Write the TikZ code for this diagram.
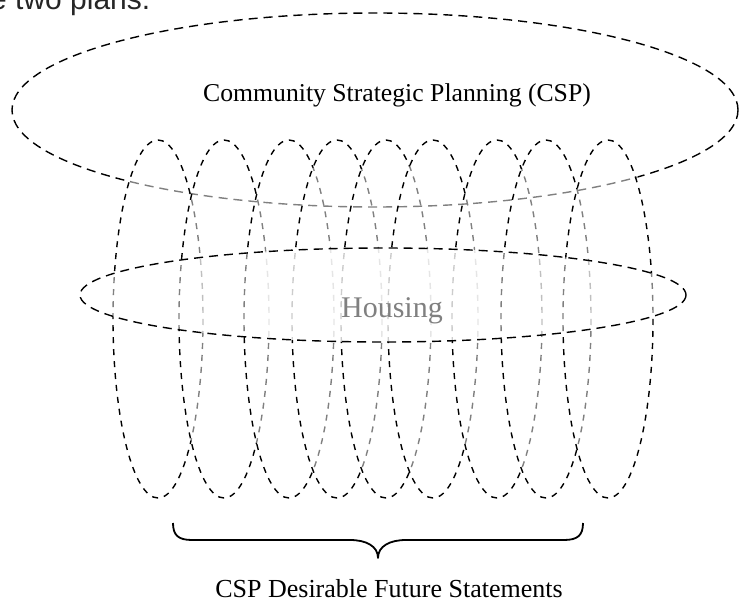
\documentclass[tikz,border=0pt]{standalone}
\usepackage{fontspec}
\setmainfont{Liberation Serif}
\newfontfamily\sansf{Liberation Sans}
\begin{document}
\begin{tikzpicture}[x=1pt,y=-1pt,
  ringline/.style={dash pattern=on 6pt off 6pt, line width=1.4pt},
  ovalline/.style={dash pattern=on 9pt off 6pt, line width=1.4pt},
  backline/.style={draw=black!50},
  lbl/.style={inner sep=0pt, anchor=base}]
\useasboundingbox (0,0) rectangle (744,609);
\fill[white] (0,0) rectangle (744,609);

% cut-off sentence at the top
\node[inner sep=0pt, anchor=base west, font=\sansf\fontsize{30}{36}\selectfont, text=black!85] (topline) at (-10,10) {e two plans.};

% CSP ellipse: lower edge behind the coil is grey
\begin{scope}
  \clip (130,150) rectangle (638,225);
  \draw[ovalline, backline] (375,110) ellipse [x radius=363, y radius=97];
\end{scope}
\begin{scope}
  \clip (-5,-5) rectangle (750,150) (-5,150) rectangle (130,225) (638,150) rectangle (750,225);
  \draw[ovalline] (375,110) ellipse [x radius=363, y radius=97];
\end{scope}

% coil rings
\foreach \cx/\nx in {158/224, 224/289, 289/337, 337/386, 386/433, 433/497, 497/546, 546/608} {
  \pgfmathsetmacro\ss{(\nx-\cx)/90}
  \pgfmathsetmacro\dd{179*sqrt(1-\ss*\ss)}
  \pgfmathsetmacro\ya{319-\dd}
  \pgfmathsetmacro\yb{319+\dd}
  \begin{scope}
    \clip (\cx,\ya) rectangle (\cx+60,\yb);
    \draw[ringline, backline] (\cx,319) ellipse [x radius=45, y radius=179];
  \end{scope}
  \begin{scope}
    \clip (\cx-60,100) rectangle (\cx,540) (\cx,100) rectangle (\cx+60,\ya) (\cx,\yb) rectangle (\cx+60,540);
    \draw[ringline] (\cx,319) ellipse [x radius=45, y radius=179];
  \end{scope}
}
\draw[ringline] (608,319) ellipse [x radius=45, y radius=179];

% Housing plane
\fill[white, opacity=0.5] (383,295) ellipse [x radius=303, y radius=47];
\begin{scope}
  \clip (383,295) ellipse [x radius=303, y radius=47];
  \fill[white, opacity=0.6] (256,240) rectangle (494,350);
\end{scope}
\draw[ovalline] (383,295) ellipse [x radius=303, y radius=47];

% labels
\node[lbl, font=\fontsize{25.7}{30}\selectfont] (csp) at (397,102) {Community Strategic Planning (CSP)};
\node[lbl, font=\fontsize{30}{36}\selectfont, text=black!50] (housing) at (392,318) {Housing};
\node[lbl, font=\fontsize{26}{31}\selectfont] (dfs) at (389,597) {CSP Desirable Future Statements};

% brace
\coordinate (bl) at (173,523);
\coordinate (br) at (583,523);
\coordinate (bt) at (378,558);
\draw[line width=1.8pt, line join=round]
  (bl) .. controls (173,535) and (178,540) .. (192,540) -- (350,540)
  .. controls (366,540) and (378,546) .. (bt)
  .. controls (378,546) and (390,540) .. (406,540) -- (564,540)
  .. controls (578,540) and (583,535) .. (br);
\end{tikzpicture}
\end{document}
